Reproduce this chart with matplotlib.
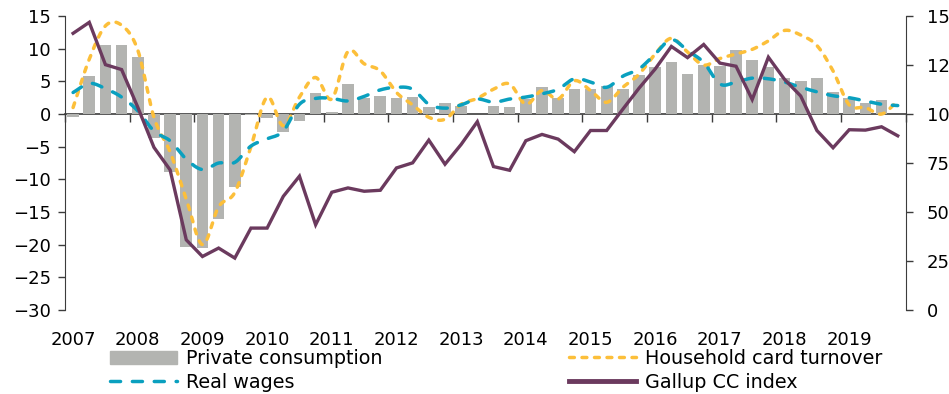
import numpy as np
import matplotlib
matplotlib.use("Agg")
import matplotlib.pyplot as plt
from matplotlib.lines import Line2D
from matplotlib.patches import Patch

# quarterly data, 2007Q1 - 2019Q4
years = [str(y) for y in range(2007, 2020)]

# private consumption, % yoy (last quarter not yet published)
consumption = [-0.4, 5.8, 10.6, 10.5, 8.8, -3.7, -8.9, -20.4, -20.5, -16.1,
               -11.2, -0.1, -0.6, -2.8, -1.1, 3.2, 0.3, 4.6, 2.4, 2.8,
               2.5, 2.6, 1.1, 1.7, 1.3, 0.0, 1.2, 1.1, 2.3, 4.1,
               2.5, 3.9, 3.8, 4.3, 3.9, 6.0, 7.2, 8.0, 6.1, 7.5,
               7.4, 9.8, 8.2, 7.2, 5.5, 5.1, 5.5, 3.4, 2.4, 1.7,
               2.1]

card_turnover = [1.0, 8.4, 13.5, 13.6, 9.8, -0.5, -5.8, -13.0, -20.0, -14.2,
                 -12.0, -5.0, 2.6, -1.8, 2.6, 5.6, 2.3, 9.6, 7.7, 6.6,
                 3.3, 1.4, -0.5, -0.8, 1.5, 2.4, 3.8, 4.6, 1.5, 3.6,
                 2.3, 5.1, 3.6, 1.8, 4.1, 6.1, 9.2, 11.6, 9.5, 7.5,
                 8.5, 9.2, 9.9, 11.2, 12.8, 12.1, 10.5, 6.6, 1.4, 1.0,
                 0.0, 2.0]

real_wages = [3.3, 4.7, 3.9, 2.6, 0.5, -2.6, -4.1, -6.9, -8.5, -7.5,
              -7.4, -4.9, -3.8, -2.6, 1.5, 2.4, 2.4, 2.0, 2.7, 3.7,
              4.1, 3.8, 1.5, 0.9, 1.4, 2.3, 1.8, 2.3, 2.6, 3.1,
              3.8, 5.4, 4.9, 4.1, 5.8, 6.9, 9.2, 11.4, 9.7, 7.9,
              4.6, 4.9, 5.5, 5.4, 4.9, 4.1, 3.4, 2.8, 2.5, 2.0,
              1.5, 1.3]

# consumer confidence index (right axis)
gallup = [141.2, 146.8, 125.2, 122.7, 103.5, 83.0, 71.5, 35.8, 27.3, 31.6,
          26.5, 41.8, 41.8, 58.0, 68.3, 43.5, 60.1, 62.3, 60.6, 61.1,
          72.5, 75.1, 86.7, 74.4, 84.5, 96.1, 73.2, 71.3, 86.4, 89.6,
          87.2, 80.8, 91.6, 91.6, 102.5, 113.2, 123.0, 134.5, 128.8, 135.5,
          126.0, 124.4, 107.4, 129.0, 117.7, 109.2, 91.6, 82.8, 92.0, 91.8,
          93.5, 88.9]

GRAY = "#b3b4b1"
YELLOW = "#fcbf3a"
BLUE = "#0aa0bf"
PURPLE = "#6b3a5e"
AXIS = "#3c3c3c"


def smooth(x, y, steps=12):
    # catmull-rom curve through the points (spreadsheet style smoothed line)
    x = np.asarray(x, float)
    y = np.asarray(y, float)
    t = np.linspace(0, 1, steps, endpoint=False)[:, None]
    out = []
    for p in (x, y):
        p = np.concatenate([[2 * p[0] - p[1]], p, [2 * p[-1] - p[-2]]])
        p0, p1, p2, p3 = p[:-3], p[1:-2], p[2:-1], p[3:]
        seg = 0.5 * (2 * p1 + (p2 - p0) * t
                     + (2 * p0 - 5 * p1 + 4 * p2 - p3) * t ** 2
                     + (3 * p1 - p0 - 3 * p2 + p3) * t ** 3)
        out.append(np.append(seg.T.ravel(), p[-2]))
    return out


plt.rcParams['font.family'] = ['DejaVu Sans']
plt.rcParams['font.size'] = 13

fig = plt.figure(figsize=(9.49, 3.94), dpi=100)
ax = fig.add_axes([0.0685, 0.2132, 0.886, 0.746])
ax2 = ax.twinx()

q = np.arange(len(card_turnover))

ax.bar(q[:len(consumption)], consumption, width=0.72, color=GRAY, zorder=1)

xs, ys = smooth(q, card_turnover)
ax.plot(xs, ys, color=YELLOW, lw=2.5, dashes=(1.4, 2.2),
        dash_capstyle='round', zorder=3)
xs, ys = smooth(q, real_wages)
ax.plot(xs, ys, color=BLUE, lw=2.5, dashes=(2.9, 3.4),
        dash_capstyle='round', zorder=4)

ax2.plot(q, gallup, color=PURPLE, lw=2.4, solid_joinstyle='miter')

ax.set_xlim(-0.5, len(q) - 0.5)
ax.set_ylim(-30, 15)
ax.set_yticks(range(-30, 16, 5))
ax2.set_ylim(0, 150)
ax2.set_yticks(range(0, 151, 25))

# year labels under the plot, no tick marks
ax.set_xticks(np.arange(0, len(q), 4))
ax.set_xticklabels(years)
ax.tick_params(axis='x', length=0, pad=15)
ax.tick_params(axis='y', length=5, width=1, color=AXIS, pad=5)
ax2.tick_params(axis='y', length=5, width=1, color=AXIS, pad=10)

# zero line with year separators
zero = ax.secondary_xaxis(0, transform=ax.transData)
zero.set_alignment('bottom')
zero.set_xticks(np.arange(-0.5, len(q), 4))
zero.tick_params(axis='x', length=6, width=1, color=AXIS, labelbottom=False)
zero.spines['bottom'].set_color(AXIS)
zero.spines['bottom'].set_linewidth(1.2)

for a in (ax, ax2):
    a.spines['top'].set_visible(False)
    a.spines['bottom'].set_visible(False)
ax.spines['right'].set_visible(False)
ax2.spines['left'].set_visible(False)
ax.spines['left'].set_color(AXIS)
ax2.spines['right'].set_color(AXIS)

handles = [Patch(color=GRAY),
           Line2D([], [], color=BLUE, lw=2.5, dashes=(2.9, 3.4), dash_capstyle='round'),
           Line2D([], [], color=YELLOW, lw=2.5, dashes=(1.4, 2.2), dash_capstyle='round'),
           Line2D([], [], color=PURPLE, lw=3.5)]
labels = ["Private consumption", "Real wages",
          "Household card turnover", "Gallup CC index"]
fig.legend(handles, labels, ncol=2, loc='upper left',
           bbox_to_anchor=(110 / 949, 1 - 349 / 394), frameon=False,
           borderpad=0, borderaxespad=0, fontsize=13.8,
           handlelength=3.5, handletextpad=0.47,
           columnspacing=9.7, labelspacing=0.26)

fig.savefig("out.png", dpi=100)
